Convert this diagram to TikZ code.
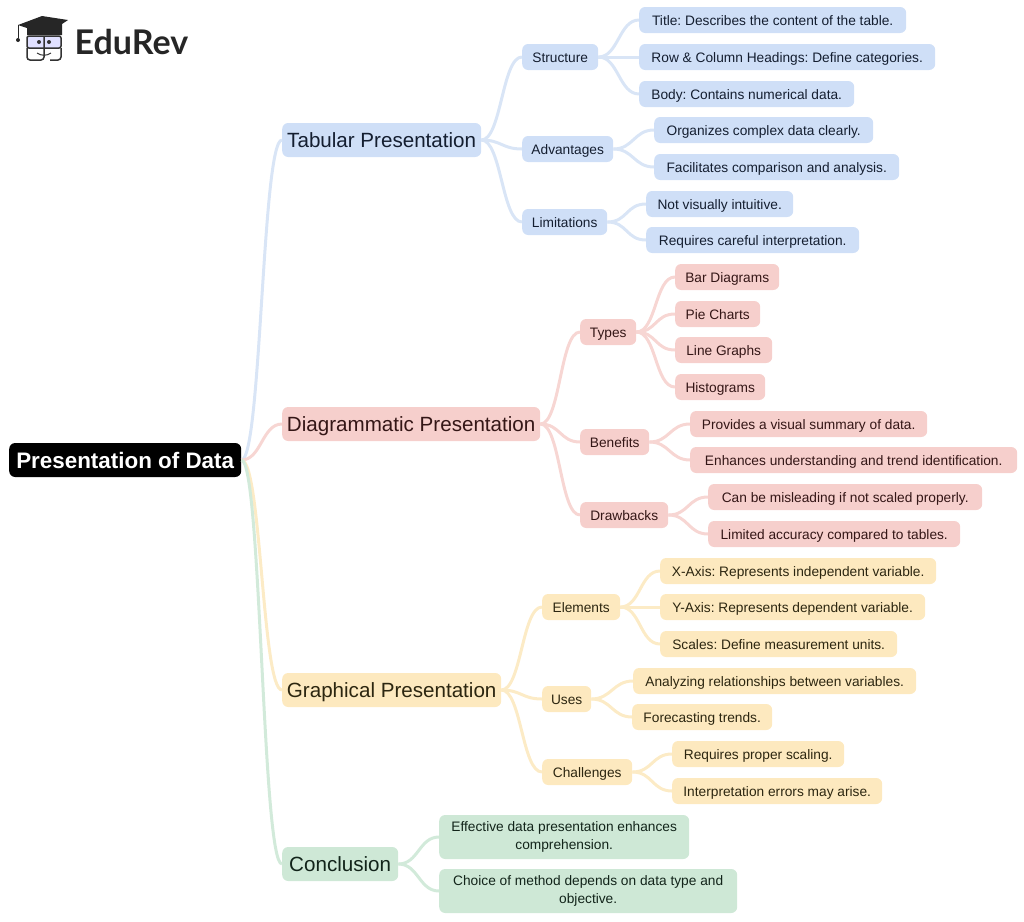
\documentclass[tikz,border=0pt]{standalone}
\usepackage{fontspec}
\setmainfont{Liberation Sans}
\newfontfamily\logofont{Lato}
\usepackage{xcolor}
\frenchspacing
\definecolor{fillb}{HTML}{CFDFF7}
\definecolor{fillr}{HTML}{F6CFCC}
\definecolor{filly}{HTML}{FDE9BF}
\definecolor{fillg}{HTML}{CEE8D6}
\definecolor{lineb}{HTML}{D9E5F6}
\definecolor{liner}{HTML}{F7D6D3}
\definecolor{liney}{HTML}{FCEBC6}
\definecolor{lineg}{HTML}{D2EADA}
\definecolor{textb}{HTML}{141E30}
\definecolor{textr}{HTML}{341616}
\definecolor{texty}{HTML}{2C2610}
\definecolor{textg}{HTML}{12241A}
\tikzset{
    base/.style={anchor=west,rounded corners=6pt,inner ysep=0pt,inner xsep=4pt,minimum height=26pt,align=center,text height=13pt,text depth=3pt,font=\fontsize{13.72}{18}\selectfont},
    big/.style={minimum height=34pt,text height=19pt,text depth=4pt,font=\fontsize{20.6}{26}\selectfont},
    two/.style={minimum height=44pt,text height=,text depth=},
    wide/.style={minimum width=#1pt},
    bnode/.style={base,fill=fillb,text=textb},
    rnode/.style={base,fill=fillr,text=textr},
    ynode/.style={base,fill=filly,text=texty},
    gnode/.style={base,fill=fillg,text=textg},
    link/.style={line width=3pt},
}
\begin{document}
\begin{tikzpicture}[x=1pt,y=-1pt]
    \useasboundingbox (0,0) rectangle (1024,921);
    % logo
    \fill[black!85] (18,25) -- (42,16) -- (68,20) -- (62,24) -- (62,35) -- (27,35) -- (27,28) -- cycle;
    \draw[black!85,line width=1pt] (18,25) -- (18,38);
    \fill[black!85] (18,40) circle (2pt);
    \draw[fill=blue!12,draw=black!80,line width=1.5pt,rounded corners=2pt] (27,36) rectangle (61,48);
    \draw[draw=black!80,line width=1.5pt,rounded corners=3pt] (27,48) -- (27,60) -- (44,60) -- (44,36);
    \draw[draw=black!80,line width=1.5pt,rounded corners=3pt] (61,48) -- (61,60) -- (50,60);
    \fill[black!80] (39,42) circle (2pt) (49,42) circle (2pt);
    \draw[black!80,line width=1pt] (37,53) .. controls (41,56) and (47,56) .. (51,53);
    \node[anchor=west,inner sep=0pt,text=black!85] (logo) at (74.5,42) {\logofont\fontsize{34}{34}\selectfont\bfseries EduRev};
    % root
    \node[base,big,fill=black,text=white,wide=232,text height=20pt,font=\fontsize{22.4}{26}\selectfont\bfseries] (root) at (9,460) {Presentation of Data};
    % tabular
    \node[bnode,big,wide=199] (tab) at (282,140) {Tabular Presentation};
    \node[bnode,wide=76] (structure) at (522,57) {Structure};
    \node[bnode,wide=267] (title) at (639,20) {Title: Describes the content of the table.};
    \node[bnode,wide=296] (headings) at (639,57) {Row \& Column Headings: Define categories.};
    \node[bnode,wide=215] (body) at (639,94) {Body: Contains numerical data.};
    \node[bnode,wide=91] (advantages) at (522,149) {Advantages};
    \node[bnode,wide=219] (organizes) at (654,130) {Organizes complex data clearly.};
    \node[bnode,wide=245] (facilitates) at (654,167) {Facilitates comparison and analysis.};
    \node[bnode,wide=85] (limitations) at (522,222) {Limitations};
    \node[bnode,wide=147] (intuitive) at (646,204) {Not visually intuitive.};
    \node[bnode,wide=213] (careful) at (646,240) {Requires careful interpretation.};
    % diagrammatic
    \node[rnode,big,wide=258] (dia) at (282,424) {Diagrammatic Presentation};
    \node[rnode,wide=56] (types) at (580,332) {Types};
    \node[rnode,wide=104] (bar) at (675,277) {Bar Diagrams};
    \node[rnode,wide=85] (pie) at (675,314) {Pie Charts};
    \node[rnode,wide=97] (linegraph) at (675,350) {Line Graphs};
    \node[rnode,wide=90] (hist) at (675,387) {Histograms};
    \node[rnode,wide=69] (benefits) at (580,442) {Benefits};
    \node[rnode,wide=237] (summary) at (690,424) {Provides a visual summary of data.};
    \node[rnode,wide=327] (enhances) at (690,460) {Enhances understanding and trend identification.};
    \node[rnode,wide=88] (drawbacks) at (580,515) {Drawbacks};
    \node[rnode,wide=274] (misleading) at (708,497) {Can be misleading if not scaled properly.};
    \node[rnode,wide=252] (accuracy) at (708,534) {Limited accuracy compared to tables.};
    % graphical
    \node[ynode,big,wide=219] (gra) at (282,690) {Graphical Presentation};
    \node[ynode,wide=78] (elements) at (542,607) {Elements};
    \node[ynode,wide=276] (xaxis) at (660,571) {X-Axis: Represents independent variable.};
    \node[ynode,wide=265] (yaxis) at (660,607) {Y-Axis: Represents dependent variable.};
    \node[ynode,wide=237] (scales) at (660,644) {Scales: Define measurement units.};
    \node[ynode,wide=49] (uses) at (542,699) {Uses};
    \node[ynode,wide=283] (analyzing) at (633,681) {Analyzing relationships between variables.};
    \node[ynode,wide=140] (forecasting) at (632,717) {Forecasting trends.};
    \node[ynode,wide=90] (challenges) at (542,772) {Challenges};
    \node[ynode,wide=172] (scaling) at (672,754) {Requires proper scaling.};
    \node[ynode,wide=210] (errors) at (672,791) {Interpretation errors may arise.};
    % conclusion
    \node[gnode,big,wide=116] (con) at (282,864) {Conclusion};
    \node[gnode,two,wide=250] (effective) at (439,837) {Effective data presentation enhances\\comprehension.};
    \node[gnode,two,wide=298] (choice) at (439,891) {Choice of method depends on data type and\\objective.};
    % links
    \foreach \from/\to/\col in {root/tab/lineb,root/dia/liner,root/gra/liney,root/con/lineg,
        tab/structure/lineb,tab/advantages/lineb,tab/limitations/lineb,
        structure/title/lineb,structure/headings/lineb,structure/body/lineb,
        advantages/organizes/lineb,advantages/facilitates/lineb,
        limitations/intuitive/lineb,limitations/careful/lineb,
        dia/types/liner,dia/benefits/liner,dia/drawbacks/liner,
        types/bar/liner,types/pie/liner,types/linegraph/liner,types/hist/liner,
        benefits/summary/liner,benefits/enhances/liner,
        drawbacks/misleading/liner,drawbacks/accuracy/liner,
        gra/elements/liney,gra/uses/liney,gra/challenges/liney,
        elements/xaxis/liney,elements/yaxis/liney,elements/scales/liney,
        uses/analyzing/liney,uses/forecasting/liney,
        challenges/scaling/liney,challenges/errors/liney,
        con/effective/lineg,con/choice/lineg}
        \draw[link,\col] (\from.east) .. controls +(20,0) and +(-20,0) .. (\to.west);
\end{tikzpicture}
\end{document}
